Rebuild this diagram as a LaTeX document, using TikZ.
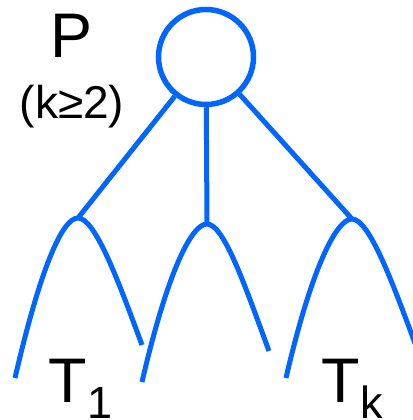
\documentclass[tikz,border=0pt]{standalone}
\usepackage{fontspec}
\setmainfont{Liberation Sans}
\definecolor{treeblue}{RGB}{0,102,255}
\begin{document}
\begin{tikzpicture}[x=1pt,y=-1pt,
  edge/.style={draw=treeblue,line width=5pt},
  rootnode/.style={circle,draw=treeblue,line width=5.5pt,minimum size=95pt,inner sep=0pt},
  bigtxt/.style={font=\fontsize{63}{63}\selectfont,inner sep=0pt},
  midtxt/.style={font=\fontsize{46}{46}\selectfont,inner sep=0pt}]
\useasboundingbox (0,0) rectangle (412,420);
\node[rootnode] (root) at (206,57) {};
\coordinate (a1) at (78,218);
\coordinate (a2) at (207,224);
\coordinate (a3) at (352,219);
\coordinate (l1) at (15,378);
\coordinate (r1) at (142,345);
\coordinate (l2) at (142,382);
\coordinate (r2) at (269,351);
\coordinate (l3) at (286,378);
\coordinate (r3) at (416,346);
\draw[edge] (root) -- (a1);
\draw[edge] (root) -- (a2);
\draw[edge] (root) -- (a3);
\draw[edge] (l1) .. controls +(25,-108) and +(-16,0) .. (a1) .. controls +(17,0) and +(-24,-65) .. (r1);
\draw[edge] (l2) .. controls +(25,-108) and +(-16,0) .. (a2) .. controls +(17,0) and +(-24,-65) .. (r2);
\draw[edge] (l3) .. controls +(25,-108) and +(-16,0) .. (a3) .. controls +(17,0) and +(-24,-65) .. (r3);
\node[bigtxt,anchor=base] (plabel) at (72,57) {P};
\node[midtxt,anchor=base] (klabel) at (72,118) {(k≥2)};
\node[bigtxt,anchor=base west] (t1) at (48.5,402) {T\raisebox{-16pt}{\fontsize{45}{45}\selectfont 1}};
\node[bigtxt,anchor=base west] (tk) at (321.5,402) {T\raisebox{-16pt}{\fontsize{45}{45}\selectfont k}};
\end{tikzpicture}
\end{document}
